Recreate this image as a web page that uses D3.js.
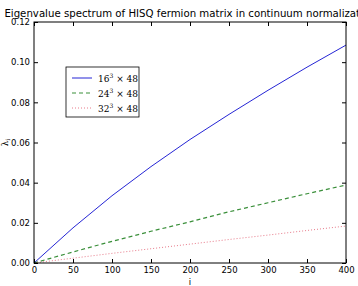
<!DOCTYPE html>
<html>
<head>
<meta charset="utf-8">
<script src="https://cdn.jsdelivr.net/npm/d3@7"></script>
<style>
  body { margin: 0; background: #fff; }
  svg { display: block; }
  .tick text { font-family: "DejaVu Sans", sans-serif; font-size: 8.5px; fill: #000; }
</style>
</head>
<body>
<div id="chart"></div>
<script>
const width = 358;
const height = 286;
const margin = {top: 22, right: 12, bottom: 23, left: 34};

// eigenvalue index
const index = [0, 50, 100, 150, 200, 250, 300, 350, 400];
// lambda_i for each lattice
const lam16 = [0, 0.0175, 0.0335, 0.048, 0.0615, 0.074, 0.086, 0.0975, 0.1085];
const lam24 = [0, 0.0055, 0.0108, 0.0158, 0.0205, 0.0255, 0.030, 0.0345, 0.0388];
const lam32 = [0, 0.0024, 0.0048, 0.0071, 0.0094, 0.0117, 0.0139, 0.0162, 0.0184];
const xTicks = [0, 50, 100, 150, 200, 250, 300, 350, 400];
const yTicks = [0, 0.02, 0.04, 0.06, 0.08, 0.10, 0.12];

const series = [
    {base: "16", values: lam16, color: "#2525d5", dash: null, w: 1},
    {base: "24", values: lam24, color: "#3a8f3a", dash: "4,3", w: 1.2},
    {base: "32", values: lam32, color: "#e87a8a", dash: "1,2", w: 1}
];

const svg = d3.select("#chart")
    .append("svg")
        .attr("width", width)
        .attr("height", height);

const x = d3.scaleLinear().domain([0, 400]).range([margin.left, width - margin.right]);
const y = d3.scaleLinear().domain([0, 0.12]).range([height - margin.bottom, margin.top]);

// lines
const line = d3.line()
    .x((d, i) => x(index[i]))
    .y(d => y(d));

svg.append("g")
    .selectAll("path")
    .data(series)
    .join("path")
        .attr("fill", "none")
        .attr("stroke", d => d.color)
        .attr("stroke-width", d => d.w)
        .attr("stroke-dasharray", d => d.dash)
        .attr("d", d => line(d.values));

// axes, ticks pointing inward
const fmt = d3.format(".2f");
svg.append("g")
    .attr("transform", `translate(0,${height - margin.bottom})`)
    .call(d3.axisBottom(x).tickValues(xTicks).tickSizeInner(-4).tickSizeOuter(0).tickPadding(4));
svg.append("g")
    .attr("transform", `translate(0,${margin.top})`)
    .call(d3.axisTop(x).tickValues(xTicks).tickSizeInner(-4).tickSizeOuter(0).tickFormat(""));
svg.append("g")
    .attr("transform", `translate(${margin.left},0)`)
    .call(d3.axisLeft(y).tickValues(yTicks).tickFormat(fmt).tickSizeInner(-4).tickSizeOuter(0).tickPadding(4));
svg.append("g")
    .attr("transform", `translate(${width - margin.right},0)`)
    .call(d3.axisRight(y).tickValues(yTicks).tickSizeInner(-4).tickSizeOuter(0).tickFormat(""));
svg.selectAll(".domain").remove();

// frame
svg.append("rect")
    .attr("x", margin.left)
    .attr("y", margin.top)
    .attr("width", width - margin.left - margin.right)
    .attr("height", height - margin.top - margin.bottom)
    .attr("fill", "none")
    .attr("stroke", "#000")
    .attr("stroke-width", 1);

// title (runs past the right edge, as in the original)
svg.append("text")
    .attr("x", (margin.left + width - margin.right) / 2)
    .attr("y", 17)
    .attr("text-anchor", "middle")
    .style("font-family", "DejaVu Sans, sans-serif")
    .style("font-size", "10.2px")
    .text("Eigenvalue spectrum of HISQ fermion matrix in continuum normalization");

// axis labels
svg.append("text")
    .attr("x", x(200))
    .attr("y", 285)
    .attr("text-anchor", "middle")
    .style("font-family", "DejaVu Sans, sans-serif")
    .style("font-size", "8.5px")
    .text("i");

const yl = svg.append("text")
    .attr("transform", `translate(8,${y(0.06)}) rotate(-90)`)
    .attr("text-anchor", "middle")
    .style("font-family", "DejaVu Serif, serif")
    .style("font-size", "8.5px");
yl.append("tspan").text("λ");
yl.append("tspan").attr("dy", 2).style("font-size", "6px").text("i");

// legend
const legend = svg.append("g").attr("transform", "translate(66,67)");
legend.append("rect")
    .attr("width", 73)
    .attr("height", 50)
    .attr("fill", "#fff")
    .attr("stroke", "#000")
    .attr("stroke-width", 0.8);

const item = legend.selectAll("g.item")
    .data(series)
    .join("g")
        .attr("class", "item")
        .attr("transform", (d, i) => `translate(0,${11 + i * 15})`);

item.append("line")
    .attr("x1", 6).attr("x2", 26)
    .attr("stroke", d => d.color)
    .attr("stroke-width", d => d.w)
    .attr("stroke-dasharray", d => d.dash);

const lt = item.append("text")
    .attr("x", 32)
    .attr("y", 3.5)
    .style("font-family", "DejaVu Serif, serif")
    .style("font-size", "9px");
lt.append("tspan").text(d => d.base);
lt.append("tspan").attr("dy", -4).style("font-size", "6px").text("3");
lt.append("tspan").attr("dy", 4).text(" × 48");
</script>
</body>
</html>
